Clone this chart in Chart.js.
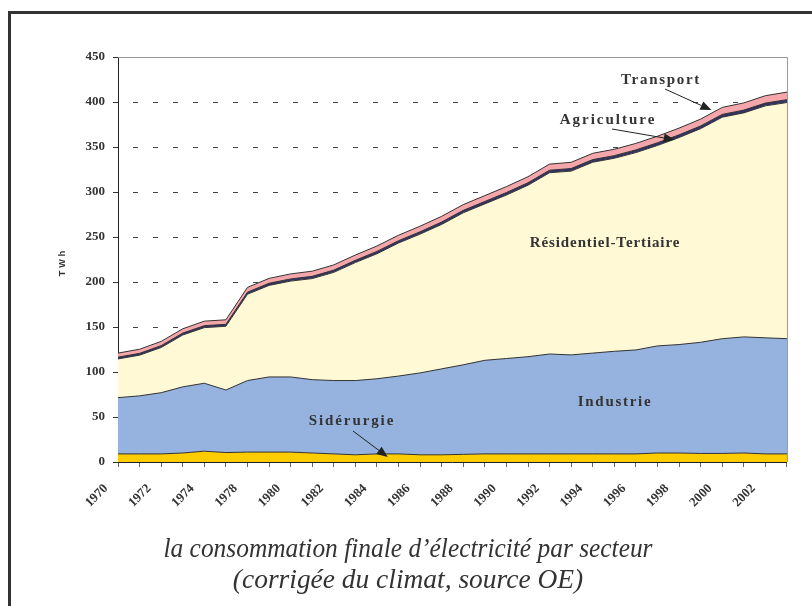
<!DOCTYPE html>
<html><head><meta charset="utf-8">
<style>html,body{margin:0;padding:0;background:#fff;}canvas{display:block;}</style>
<script src="https://cdn.jsdelivr.net/npm/chart.js@4/dist/chart.umd.min.js"></script>
</head><body>
<canvas id="c" width="812" height="606"></canvas>
<script>
// Categories (1976 and 1977 are absent from the source axis)
const years = ['1970','1971','1972','1973','1974','1975','1978','1979','1980','1981','1982','1983','1984','1985','1986','1987','1988','1989','1990','1991','1992','1993','1994','1995','1996','1997','1998','1999','2000','2001','2002','2003'];
// Series values, TWh (stacked from bottom to top)
const siderurgie = [9,9,9,10,12,10.5,11,11,11,10,9,8,9,9,8,8,8.5,9,9,9,9,9,9,9,9,10,10,9.5,9.5,10,9,9];
const industrie = [62.5,64.5,68,73.5,75.5,69.5,79.5,83.5,83.5,81.5,81.5,82.5,83.5,86.5,91,95.5,99.5,104,106,108,111,110,112,114,115.5,119,120.5,123.5,127.5,129,129,128];
const residentiel = [43,45.2,50.2,57.6,61.8,70.8,95.9,101.7,106.5,112.3,120.2,131.1,138.9,147.8,154.2,160.5,168.9,173.8,181.6,190.5,201.4,204.2,212.1,214.5,219.3,222.7,230,237.4,246.1,248.9,257.7,262.4];
const agriculture = [2.0,2.0,2.1,2.1,2.2,2.2,2.3,2.4,2.4,2.5,2.5,2.5,2.6,2.6,2.6,2.7,2.7,2.7,2.8,2.8,2.8,2.9,2.9,2.9,3.0,3.0,3.0,3.0,3.1,3.1,3.1,3.2];
const transport = [4.5,4.6,4.7,4.8,5.0,5.0,5.3,5.4,5.6,5.7,5.8,5.9,6.0,6.1,6.2,6.3,6.4,6.5,6.6,6.7,6.8,6.9,7.0,7.1,7.2,7.3,7.5,7.6,7.8,8.0,8.2,8.4];
const seriesNames = ['Sidérurgie','Industrie','Résidentiel-Tertiaire','Agriculture','Transport'];
const yTicks = [0,50,100,150,200,250,300,350,400,450];
const captionLines = ['la consommation finale d\u2019électricité par secteur','(corrigée du climat, source OE)'];
const yTitle = 'TWh';

const colors = ['#FFCC00','#95B3DE','#FFF9D6','#333366','#F5A6AA'];
const values = [siderurgie, industrie, residentiel, agriculture, transport];

const datasets = values.map((v,i)=>({
  label: seriesNames[i],
  data: v,
  backgroundColor: colors[i],
  borderColor: '#333333',
  borderWidth: 1,
  pointRadius: 0,
  tension: 0,
  fill: i===0 ? 'origin' : '-1'
}));

function arrow(ctx, x1,y1,x2,y2){
  ctx.save();
  ctx.strokeStyle='#222'; ctx.fillStyle='#222'; ctx.lineWidth=1;
  const a=Math.atan2(y2-y1,x2-x1), L=11, W=4.5;
  const bx=x2-L*Math.cos(a), by=y2-L*Math.sin(a);
  ctx.beginPath(); ctx.moveTo(x1,y1); ctx.lineTo(bx,by); ctx.stroke();
  ctx.beginPath(); ctx.moveTo(x2,y2);
  ctx.lineTo(bx+W*Math.sin(a), by-W*Math.cos(a));
  ctx.lineTo(bx-W*Math.sin(a), by+W*Math.cos(a));
  ctx.closePath(); ctx.fill();
  ctx.restore();
}
function label(ctx, text, cx, by, size, spacing){
  ctx.save();
  ctx.font = 'bold '+size+'px "Liberation Serif", "Times New Roman", serif';
  ctx.letterSpacing = spacing+'px';
  ctx.fillStyle = '#333';
  ctx.textAlign='center'; ctx.textBaseline='alphabetic';
  ctx.fillText(text, cx, by);
  ctx.restore();
}

const deco = {
  id:'deco',
  afterDraw(chart){
    const ctx=chart.ctx, a=chart.chartArea, xs=chart.scales.x, ys=chart.scales.y;
    ctx.save();
    // plot border top/right
    ctx.strokeStyle='#999'; ctx.lineWidth=1;
    ctx.beginPath(); ctx.moveTo(a.left, a.top+0.5); ctx.lineTo(a.right+0.5, a.top+0.5); ctx.lineTo(a.right+0.5, a.bottom); ctx.stroke();
    // outer frame (left + top)
    ctx.fillStyle='#333';
    ctx.fillRect(8,11,812-8,3);
    ctx.fillRect(8,11,3,606-11);
    // y title
    ctx.save();
    ctx.translate(65,262); ctx.rotate(-Math.PI/2);
    ctx.font='bold 9px "Liberation Sans", Arial, sans-serif';
    ctx.letterSpacing='3px';
    ctx.fillStyle='#333'; ctx.textAlign='center'; ctx.textBaseline='alphabetic';
    ctx.fillText(yTitle,0,0);
    ctx.restore();
    // annotations
    label(ctx, seriesNames[4], 661, 84, 15, 1.7);
    label(ctx, seriesNames[3], 608, 124, 15, 2.0);
    label(ctx, seriesNames[2], 605, 247, 15, 0.9);
    label(ctx, seriesNames[1], 615, 406, 15, 1.7);
    label(ctx, seriesNames[0], 352, 425, 15, 1.9);
    arrow(ctx, 665, 89, xs.getPixelForValue(27.5), ys.getPixelForValue(391));
    arrow(ctx, 612, 129, xs.getPixelForValue(25.8), ys.getPixelForValue(358));
    arrow(ctx, 353, 431, xs.getPixelForValue(12.5), ys.getPixelForValue(5.5));
    // caption
    ctx.fillStyle='#333';
    ctx.font='italic 27px "Liberation Serif", "Times New Roman", serif';
    ctx.textBaseline='alphabetic';
    ctx.letterSpacing='0px';
    const k1 = 489/ctx.measureText(captionLines[0]).width;
    [[408,557,k1],[408,588,k1*1.08]].forEach(([cx,by,k],i)=>{
      ctx.save(); ctx.translate(cx,by); ctx.scale(k,1);
      ctx.textAlign='center'; ctx.fillText(captionLines[i],0,0); ctx.restore();
    });
    ctx.restore();
  }
};

new Chart(document.getElementById('c'), {
  type:'line',
  data:{labels:years, datasets},
  options:{
    responsive:false, animation:false,
    layout:{padding:{left:0,right:23,top:57,bottom:0}},
    plugins:{legend:{display:false}, tooltip:{enabled:false}, title:{display:false}},
    elements:{line:{borderJoinStyle:'round'}},
    scales:{
      x:{
        type:'category', offset:false,
        afterFit(s){ s.height = 144; },
        grid:{display:true, drawOnChartArea:false, drawTicks:true, tickLength:5, tickColor:'#666'},
        border:{display:true, color:'#222', width:1},
        ticks:{autoSkip:false, maxRotation:45, minRotation:45, padding:14, labelOffset:-12,
          color:'#333', font:{family:'"Liberation Serif", serif', weight:'bold', size:13},
          callback(v,i){ return i%2===0 ? years[i] : ''; }}
      },
      y:{
        stacked:true, min:0, max:450,
        afterFit(s){ s.width = 118; },
        afterBuildTicks(s){ s.ticks = yTicks.map(v=>({value:v})); },
        grid:{display:true, drawOnChartArea:true, drawTicks:true, tickLength:5, color:'#444', tickColor:'#333', lineWidth:1},
        border:{display:true, color:'#222', width:1, dash:[5,15], dashOffset:-14},
        ticks:{padding:8, color:'#333', font:{family:'"Liberation Serif", serif', weight:'bold', size:13}}
      }
    }
  },
  plugins:[deco]
});
</script>
</body></html>
